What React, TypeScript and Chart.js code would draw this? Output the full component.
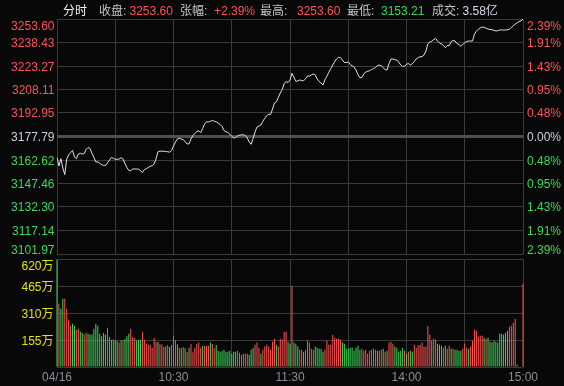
import React, { useEffect, useRef } from 'react';
import { Chart, registerables } from 'chart.js';

Chart.register(...registerables);

const PREV_CLOSE = 3177.79;

const PRICES = [
  3164.37, 3158.76, 3163.47, 3157.47, 3153.21, 3163.27, 3165.85, 3167.34, 3168.76, 3164.56,
  3163.47, 3166.5, 3166.95, 3166.5, 3166.82, 3169.4, 3170.69, 3170.05, 3166.95, 3164.37,
  3161.34, 3161.34, 3160.69, 3159.4, 3159.21, 3159.08, 3160.69, 3162.63, 3164.24, 3163.72,
  3163.08, 3163.08, 3163.27, 3164.11, 3163.27, 3160.37, 3157.79, 3155.85, 3155.72, 3156.82,
  3156.82, 3156.82, 3156.69, 3155.85, 3154.56, 3156.5, 3156.95, 3157.79, 3158.56, 3158.89,
  3160.05, 3163.27, 3167.98, 3168.31, 3168.31, 3168.24, 3168.05, 3167.98, 3167.66, 3168.76,
  3171.66, 3174.24, 3176.18, 3176.63, 3176.18, 3175.73, 3174.56, 3172.95, 3173.08, 3176.18,
  3178.44, 3179.73, 3181.02, 3181.53, 3180.24, 3182.95, 3185.73, 3187.27, 3187.15, 3187.66,
  3188.11, 3187.66, 3187.27, 3186.5, 3185.53, 3184.24, 3181.66, 3180.82, 3180.37, 3179.21,
  3177.85, 3176.82, 3177.14, 3178.11, 3178.63, 3178.89, 3178.89, 3178.44, 3176.82, 3174.24,
  3172.76, 3176.5, 3180.69, 3183.92, 3184.44, 3185.21, 3187.47, 3189.53, 3191.15, 3192.11,
  3191.98, 3195.53, 3199.4, 3200.18, 3203.08, 3205.86, 3208.11, 3211.99, 3213.15, 3212.63,
  3214.24, 3218.57, 3216.18, 3213.28, 3213.73, 3214.24, 3213.86, 3213.79, 3215.02, 3216.82,
  3216.82, 3217.47, 3218.11, 3217.47, 3214.89, 3213.28, 3212.31, 3211.02, 3214.44, 3216.63,
  3219.21, 3221.66, 3223.92, 3226.05, 3227.79, 3228.89, 3228.7, 3227.15, 3225.53, 3225.53,
  3225.86, 3224.37, 3223.28, 3222.63, 3220.7, 3217.79, 3215.66, 3215.86, 3218.11, 3219.41,
  3219.86, 3220.24, 3221.02, 3221.66, 3222.31, 3223.6, 3223.86, 3223.41, 3222.18, 3220.95,
  3220.7, 3224.89, 3227.79, 3227.79, 3227.28, 3227.15, 3225.86, 3223.92, 3222.95, 3223.15,
  3224.37, 3224.89, 3223.92, 3224.7, 3226.18, 3227.79, 3228.7, 3229.28, 3229.28, 3230.37,
  3232.95, 3237.47, 3238.76, 3239.21, 3240.37, 3241.02, 3239.41, 3238.11, 3237.47, 3236.63,
  3235.08, 3236.5, 3236.43, 3238.89, 3239.86, 3239.41, 3237.79, 3237.08, 3235.99, 3237.08,
  3238.37, 3239.08, 3239.41, 3239.41, 3239.41, 3243.92, 3245.73, 3247.02, 3247.92, 3248.44,
  3248.12, 3247.66, 3247.15, 3246.83, 3246.7, 3246.31, 3245.86, 3246.05, 3246.5, 3246.63,
  3246.37, 3246.5, 3246.7, 3246.96, 3248.12, 3249.28, 3250.37, 3251.15, 3251.99, 3252.31, 3253.6,
];

// volume in 万
const VOLUMES = [
  616, 363, 335, 392, 392, 335, 272, 237, 249, 237,
  214, 220, 203, 195, 187, 197, 191, 187, 187, 220,
  249, 237, 191, 176, 195, 185, 226, 172, 157, 157,
  153, 149, 141, 153, 153, 161, 176, 191, 220, 172,
  166, 153, 157, 157, 203, 157, 134, 128, 128, 111,
  166, 145, 143, 130, 130, 115, 118, 126, 115, 128,
  180, 153, 130, 111, 107, 115, 107, 84, 111, 132,
  84, 111, 132, 140, 111, 120, 120, 122, 122, 140,
  132, 107, 126, 94, 88, 94, 99, 88, 88, 94,
  76, 88, 88, 94, 82, 71, 76, 76, 76, 71,
  99, 111, 128, 140, 111, 76, 99, 117, 128, 117,
  99, 145, 162, 128, 117, 162, 157, 203, 203, 145,
  134, 467, 140, 134, 117, 99, 99, 88, 99, 151,
  140, 105, 99, 117, 111, 105, 103, 88, 99, 151,
  128, 128, 185, 168, 162, 162, 157, 140, 134, 105,
  105, 111, 111, 94, 111, 122, 99, 105, 94, 99,
  76, 94, 99, 105, 99, 94, 94, 99, 105, 88,
  94, 140, 145, 134, 117, 111, 88, 94, 111, 94,
  76, 88, 94, 88, 128, 111, 126, 126, 140, 117,
  117, 237, 185, 151, 162, 157, 134, 128, 122, 111,
  122, 105, 122, 105, 105, 99, 99, 94, 94, 105,
  134, 111, 105, 117, 151, 214, 208, 174, 180, 180,
  168, 162, 168, 145, 140, 151, 145, 140, 191, 191,
  185, 197, 208, 231, 237, 254, 277, 13, 0, 0, 478,
];

// 1 = up (red), -1 = down (green)
const VOLUME_DIRS = [
  -1, 1, -1, -1, 1, 1, 1, 1, -1, -1,
  1, 1, -1, -1, 1, 1, -1, -1, -1, -1,
  -1, -1, -1, -1, -1, -1, 1, -1, -1, -1,
  -1, -1, 1, -1, 1, -1, -1, -1, 1, 1,
  1, -1, -1, -1, 1, 1, 1, 1, 1, 1,
  1, 1, -1, 1, 1, 1, -1, 1, -1, 1,
  1, 1, -1, 1, -1, 1, -1, 1, -1, 1,
  1, 1, 1, 1, 1, -1, 1, 1, 1, -1,
  1, 1, -1, -1, -1, -1, -1, -1, -1, -1,
  -1, -1, -1, 1, 1, 1, 1, 1, 1, -1,
  -1, -1, 1, 1, 1, -1, 1, 1, 1, 1,
  1, 1, 1, -1, 1, 1, 1, 1, 1, -1,
  -1, 1, -1, -1, -1, 1, 1, -1, 1, 1,
  1, 1, 1, -1, -1, -1, -1, -1, 1, 1,
  1, 1, 1, 1, 1, 1, 1, -1, -1, -1,
  -1, -1, -1, -1, -1, -1, -1, 1, 1, 1,
  1, 1, 1, 1, 1, -1, 1, 1, -1, 1,
  -1, 1, 1, 1, -1, -1, -1, -1, -1, 1,
  -1, 1, -1, -1, 1, 1, 1, 1, 1, 1,
  1, 1, 1, -1, 1, 1, -1, -1, -1, 1,
  -1, 1, 1, -1, 1, -1, -1, -1, -1, 1,
  1, 1, -1, 1, 1, 1, 1, 1, 1, 1,
  -1, 1, -1, -1, -1, -1, -1, -1, -1, -1,
  -1, -1, -1, 1, 1, 1, 1, -1, 0, 0, 1,
];

const PRICE_TICKS = [3101.97, 3117.14, 3132.3, 3147.46, 3162.62, 3177.79, 3192.95, 3208.11, 3223.27, 3238.43, 3253.6];
const PCT_TICKS = [-2.39, -1.91, -1.43, -0.95, -0.48, 0, 0.48, 0.95, 1.43, 1.91, 2.39];
const VOL_TICKS = [0, 155, 310, 465, 620];
const VOL_LABELS = ['', '155万', '310万', '465万', '620万'];
const TIME_GRID = [0, 30, 60, 90, 120, 150, 180, 210, 240];
const TIME_LABEL_POS = [0, 60, 120, 180, 240];
const TIME_LABELS = ['04/16', '10:30', '11:30', '14:00', '15:00'];

const HEADER = [
  { text: '分时', kind: 'title' },
  { text: '收盘:', kind: 'label' },
  { text: '3253.60', kind: 'up' },
  { text: '张幅:', kind: 'label' },
  { text: '+2.39%', kind: 'up' },
  { text: '最高:', kind: 'label' },
  { text: '3253.60', kind: 'up' },
  { text: '最低:', kind: 'label' },
  { text: '3153.21', kind: 'down' },
  { text: '成交:', kind: 'label' },
  { text: '3.58亿', kind: 'neutral' },
];
const HEADER_X = [63, 99, 129.5, 180, 214, 260, 297, 347, 381, 432, 462.5];

const BG = '#080808';
const GRID = '#3b3b3b';
const ZERO_GRID = '#4f4f4f';
const RED = '#ff5353';
const GREEN = '#3dd75a';
const NEUTRAL = '#c4d2e2';
const YELLOW = '#e4e400';
const AXIS_GRAY = '#8a8e94';
const FONT = '12px "Liberation Sans", Arial, "Noto Sans CJK SC", sans-serif';

const W = 564;
const PRICE_H = 256;
const VOL_TOP = 256;
const VOL_H = 130;

function colorFor(kind: string) {
  if (kind === 'up') return RED;
  if (kind === 'down') return GREEN;
  if (kind === 'title') return '#f2f2f2';
  if (kind === 'neutral') return '#d6dde8';
  return '#c6c6c6';
}

const priceTextPlugin = {
  id: 'priceText',
  afterDraw(chart: any) {
    const ctx = chart.ctx;
    const y = chart.scales.y;
    const yr = chart.scales.yr;
    ctx.save();
    ctx.font = FONT;
    ctx.textBaseline = 'alphabetic';
    ctx.textAlign = 'left';
    HEADER.forEach((h, i) => {
      ctx.fillStyle = colorFor(h.kind);
      ctx.fillText(h.text, HEADER_X[i], 15);
    });
    const n = PRICE_TICKS.length;
    const baseFor = (i: number, py: number) => (i === n - 1 ? py + 11 : i === 0 ? py : Math.round(py + 4.5));
    y.ticks.forEach((t: any, i: number) => {
      const py = y.getPixelForValue(t.value);
      ctx.textAlign = 'right';
      ctx.fillStyle = t.value > PREV_CLOSE + 0.001 ? RED : t.value < PREV_CLOSE - 0.001 ? GREEN : NEUTRAL;
      ctx.fillText(t.value.toFixed(2), 54.5, baseFor(i, py));
    });
    yr.ticks.forEach((t: any, i: number) => {
      const py = yr.getPixelForValue(t.value);
      ctx.textAlign = 'left';
      ctx.fillStyle = t.value > 0 ? RED : t.value < 0 ? GREEN : NEUTRAL;
      ctx.fillText(Math.abs(t.value).toFixed(2) + '%', 527, baseFor(i, py));
    });
    ctx.restore();
  },
};

const volTextPlugin = {
  id: 'volText',
  afterDraw(chart: any) {
    const ctx = chart.ctx;
    const y = chart.scales.y;
    const x = chart.scales.x;
    ctx.save();
    ctx.font = FONT;
    ctx.textBaseline = 'alphabetic';
    ctx.textAlign = 'right';
    ctx.fillStyle = YELLOW;
    const n = VOL_TICKS.length;
    y.ticks.forEach((t: any, i: number) => {
      const label = VOL_LABELS[VOL_TICKS.indexOf(t.value)];
      if (!label) return;
      const py = y.getPixelForValue(t.value);
      const base = i === n - 1 ? py + 11 : Math.round(py + 4.5);
      ctx.fillText(label, 53.5, base);
    });
    ctx.textAlign = 'center';
    ctx.fillStyle = AXIS_GRAY;
    TIME_LABEL_POS.forEach((p, i) => {
      ctx.fillText(TIME_LABELS[i], x.getPixelForValue(p), chart.chartArea.bottom + 14);
    });
    ctx.restore();
  },
};

function xAxis() {
  return {
    type: 'linear',
    min: 0,
    max: 240,
    offset: false,
    afterBuildTicks: (s: any) => {
      s.ticks = TIME_GRID.map((v) => ({ value: v }));
    },
    afterFit: (s: any) => {
      s.height = 0;
    },
    ticks: { display: false },
    grid: { color: GRID, lineWidth: 1, drawTicks: false, offset: false },
    border: { display: false },
  };
}

export default function App() {
  const priceRef = useRef<HTMLCanvasElement>(null);
  const volRef = useRef<HTMLCanvasElement>(null);

  useEffect(() => {
    const priceChart = new Chart(priceRef.current as HTMLCanvasElement, {
      type: 'line',
      data: {
        datasets: [
          {
            data: PRICES.map((p, i) => ({ x: i, y: p })),
            borderColor: '#e2e2e2',
            borderWidth: 1,
            pointRadius: 0,
            tension: 0,
            fill: false,
            yAxisID: 'y',
          },
        ],
      },
      options: {
        responsive: false,
        animation: false,
        events: [],
        layout: { padding: { top: 19, bottom: 2, left: 0, right: 0 } },
        plugins: { legend: { display: false }, tooltip: { enabled: false } },
        scales: {
          x: xAxis() as any,
          y: {
            type: 'linear',
            position: 'left',
            min: PRICE_TICKS[0],
            max: PRICE_TICKS[PRICE_TICKS.length - 1],
            afterBuildTicks: (s: any) => {
              s.ticks = PRICE_TICKS.map((v) => ({ value: v }));
            },
            afterFit: (s: any) => {
              s.width = 57;
            },
            ticks: { display: false },
            grid: {
              color: (c: any) => (c.index === 5 ? ZERO_GRID : GRID),
              lineWidth: (c: any) => (c.index === 5 ? 3 : 1),
              drawTicks: false,
            },
            border: { display: false },
          },
          yr: {
            type: 'linear',
            position: 'right',
            min: PCT_TICKS[0],
            max: PCT_TICKS[PCT_TICKS.length - 1],
            afterBuildTicks: (s: any) => {
              s.ticks = PCT_TICKS.map((v) => ({ value: v }));
            },
            afterFit: (s: any) => {
              s.width = 41;
            },
            ticks: { display: false },
            grid: { display: false, drawTicks: false },
            border: { display: false },
          },
        },
      },
      plugins: [priceTextPlugin],
    } as any);

    const volChart = new Chart(volRef.current as HTMLCanvasElement, {
      type: 'bar',
      data: {
        datasets: [
          {
            data: VOLUMES.map((v, i) => ({ x: i, y: v })),
            backgroundColor: VOLUME_DIRS.map((d) => (d >= 0 ? RED : GREEN)),
            borderWidth: 0,
            barThickness: 1,
            inflateAmount: 0,
            clip: false,
          },
        ],
      },
      options: {
        responsive: false,
        animation: false,
        events: [],
        layout: { padding: { top: 3, bottom: 19, left: 0, right: 41 } },
        plugins: { legend: { display: false }, tooltip: { enabled: false } },
        scales: {
          x: xAxis() as any,
          y: {
            type: 'linear',
            position: 'left',
            min: 0,
            max: 620,
            afterBuildTicks: (s: any) => {
              s.ticks = VOL_TICKS.map((v) => ({ value: v }));
            },
            afterFit: (s: any) => {
              s.width = 57;
            },
            ticks: { display: false },
            grid: { color: GRID, lineWidth: 1, drawTicks: false },
            border: { display: false },
          },
        },
      },
      plugins: [volTextPlugin],
    } as any);

    return () => {
      priceChart.destroy();
      volChart.destroy();
    };
  }, []);

  return (
    <div style={{ position: 'fixed', left: 0, top: 0, width: W, height: 386, background: BG, overflow: 'hidden' }}>
      <canvas ref={priceRef} width={W} height={PRICE_H} style={{ position: 'absolute', left: 0, top: 0 }} />
      <canvas ref={volRef} width={W} height={VOL_H} style={{ position: 'absolute', left: 0, top: VOL_TOP }} />
    </div>
  );
}
